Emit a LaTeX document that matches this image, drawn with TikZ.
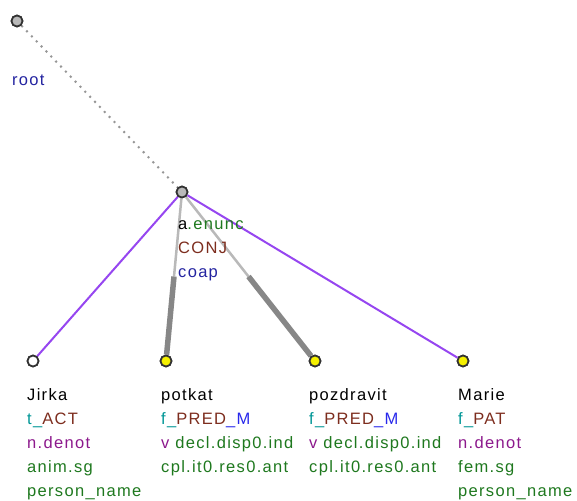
\documentclass[tikz,border=0pt]{standalone}
\usepackage{fontspec}
\setmainfont[LetterSpace=8]{Liberation Sans}
\usetikzlibrary{calc}
\definecolor{cnavy}{RGB}{35,35,160}
\definecolor{cgreen}{RGB}{30,120,30}
\definecolor{cbrown}{RGB}{125,45,30}
\definecolor{cteal}{RGB}{0,150,150}
\definecolor{cblue}{RGB}{40,40,235}
\definecolor{cpurple}{RGB}{140,25,140}
\definecolor{cedge}{RGB}{150,70,240}
\definecolor{cyel}{RGB}{245,240,0}
\tikzset{
  tnode/.style={circle,inner sep=0pt,minimum size=11pt,draw={rgb,255:red,50;green,50;blue,50},line width=1.7pt},
  graynode/.style={tnode,fill={rgb,255:red,185;green,185;blue,185}},
  whitenode/.style={tnode,fill=white},
  yelnode/.style={tnode,fill=cyel},
  lbl/.style={anchor=base west,inner sep=0pt,font=\fontsize{16.5pt}{19pt}\selectfont},
  pedge/.style={draw=cedge,line width=2pt},
  thinhalf/.style={draw={rgb,255:red,185;green,185;blue,185},line width=2.5pt},
  thickhalf/.style={draw={rgb,255:red,135;green,135;blue,135},line width=5.5pt},
  rootedge/.style={draw={rgb,255:red,150;green,150;blue,150},line width=2pt,dash pattern=on 2pt off 5pt}
}
\begin{document}
\begin{tikzpicture}[x=1pt,y=-1pt]
\useasboundingbox (0,0) rectangle (577,500);
% nodes
\node[graynode] (root) at (17,21) {};
\node[graynode] (coap) at (182,192) {};
\node[whitenode] (jirka) at (33,361) {};
\node[yelnode] (potkat) at (166,361) {};
\node[yelnode] (pozdr) at (315,361) {};
\node[yelnode] (marie) at (463,361) {};
% edges
\path[rootedge] (root) -- (coap);
\path[pedge] (coap) -- (jirka);
\path[pedge] (coap) -- (marie);
\coordinate (mpot) at ($(coap)!0.5!(potkat)$);
\coordinate (mpoz) at ($(coap)!0.5!(pozdr)$);
\path[thinhalf] (coap) -- (mpot);
\path[thickhalf] (mpot) -- (potkat);
\path[thinhalf] (coap) -- (mpoz);
\path[thickhalf] (mpoz) -- (pozdr);
% redraw nodes on top
\node[graynode] at (root.center) {};
\node[graynode] at (coap.center) {};
\node[whitenode] at (jirka.center) {};
\node[yelnode] at (potkat.center) {};
\node[yelnode] at (pozdr.center) {};
\node[yelnode] at (marie.center) {};
% labels
\node[lbl,text=cnavy] (lroot) at (12,86) {root};
\node[lbl] (l1) at (178,229) {a\textcolor{cgreen}{.enunc}};
\node[lbl,text=cbrown] (l2) at (178,253) {CONJ};
\node[lbl,text=cnavy] (l3) at (178,277) {coap};
% Jirka
\node[lbl] (j1) at (27,400) {Jirka};
\node[lbl] (j2) at (27,424) {\textcolor{cteal}{t\_}\textcolor{cbrown}{ACT}};
\node[lbl,text=cpurple] (j3) at (27,448) {n.denot};
\node[lbl,text=cgreen] (j4) at (27,472) {anim.sg};
\node[lbl,text=cgreen] (j5) at (27,496) {person\_name};
% potkat
\node[lbl] (p1) at (161,400) {potkat};
\node[lbl] (p2) at (161,424) {\textcolor{cteal}{f\_}\textcolor{cbrown}{PRED}\textcolor{cblue}{\_M}};
\node[lbl] (p3) at (161,448) {\textcolor{cpurple}{v} \textcolor{cgreen}{decl.disp0.ind}};
\node[lbl,text=cgreen] (p4) at (161,472) {cpl.it0.res0.ant};
% pozdravit
\node[lbl] (z1) at (309,400) {pozdravit};
\node[lbl] (z2) at (309,424) {\textcolor{cteal}{f\_}\textcolor{cbrown}{PRED}\textcolor{cblue}{\_M}};
\node[lbl] (z3) at (309,448) {\textcolor{cpurple}{v} \textcolor{cgreen}{decl.disp0.ind}};
\node[lbl,text=cgreen] (z4) at (309,472) {cpl.it0.res0.ant};
% Marie
\node[lbl] (m1) at (458,400) {Marie};
\node[lbl] (m2) at (458,424) {\textcolor{cteal}{f\_}\textcolor{cbrown}{PAT}};
\node[lbl,text=cpurple] (m3) at (458,448) {n.denot};
\node[lbl,text=cgreen] (m4) at (458,472) {fem.sg};
\node[lbl,text=cgreen] (m5) at (458,496) {person\_name};
\end{tikzpicture}
\end{document}
